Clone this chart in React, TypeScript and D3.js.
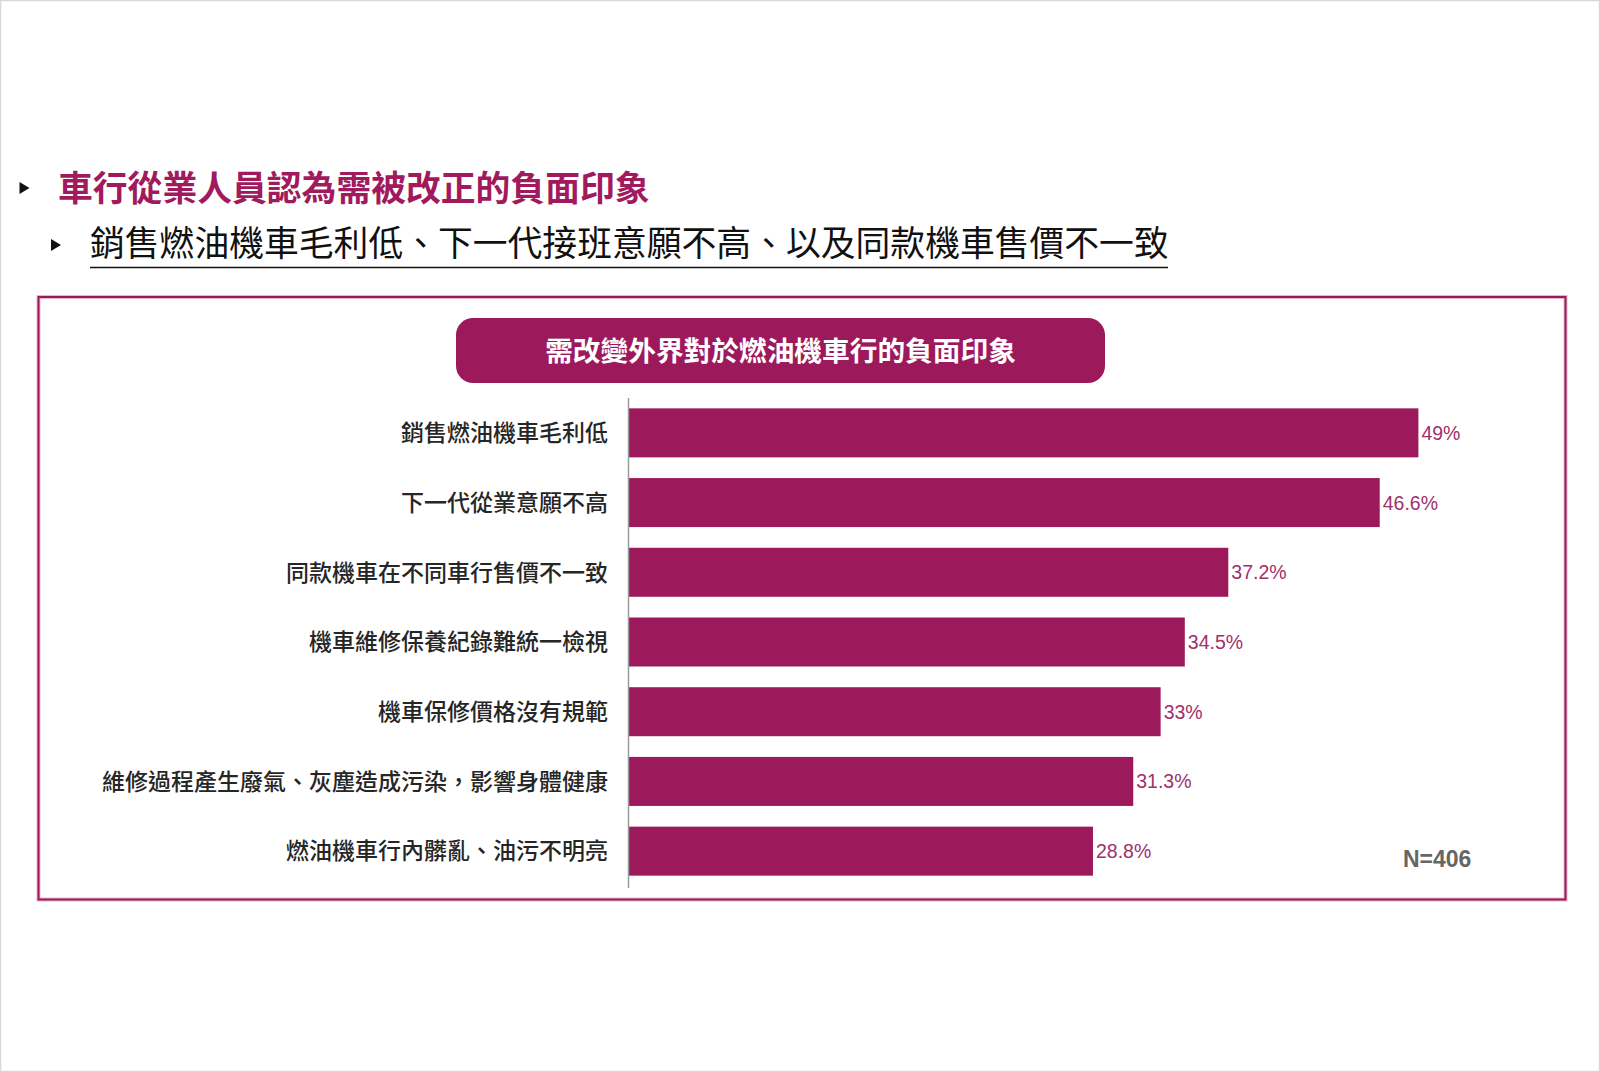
import React from "react";
import * as d3 from "d3";

const heading1 = "車行從業人員認為需被改正的負面印象";
const heading2 = "銷售燃油機車毛利低、下一代接班意願不高、以及同款機車售價不一致";
const chartTitle = "需改變外界對於燃油機車行的負面印象";
const sampleNote = "N=406";

const categories = [
  "銷售燃油機車毛利低",
  "下一代從業意願不高",
  "同款機車在不同車行售價不一致",
  "機車維修保養紀錄難統一檢視",
  "機車保修價格沒有規範",
  "維修過程產生廢氣、灰塵造成污染，影響身體健康",
  "燃油機車行內髒亂、油污不明亮",
];
const values = [49, 46.6, 37.2, 34.5, 33, 31.3, 28.8];
const valueLabels = ["49%", "46.6%", "37.2%", "34.5%", "33%", "31.3%", "28.8%"];

const W = 1600;
const H = 1072;
const MAGENTA = "#9c1a5c";
const CJK = "'Noto Sans CJK TC', 'Noto Sans CJK SC', sans-serif";
const LATIN = "'Liberation Sans', Arial, sans-serif";

export default function App() {
  const x = d3.scaleLinear().domain([0, 50]).range([629, 1434.5]);
  const y = d3
    .scaleBand<string>()
    .domain(categories)
    .range([398, 886])
    .paddingInner(0.297)
    .paddingOuter(0.1485);

  const tri = (cx: number, cy: number, w: number, h: number) =>
    `M${cx - w / 2},${cy - h / 2} L${cx + w / 2},${cy} L${cx - w / 2},${cy + h / 2} Z`;

  return (
    <svg
      width={W}
      height={H}
      viewBox={`0 0 ${W} ${H}`}
      style={{ position: "absolute", left: 0, top: 0, display: "block", background: "#fff" }}
    >
      <rect x={0.5} y={0.5} width={W - 1} height={H - 1} fill="#fff" stroke="#d8d8d8" strokeWidth={1.5} />

      {/* Headings */}
      <path d={tri(24.5, 188, 10, 12)} fill="#111" />
      <text
        x={58}
        y={188}
        dy="0.36em"
        fontFamily={CJK}
        fontWeight={700}
        fontSize={34.8}
        fill="#a11a5d"
      >
        {heading1}
      </text>

      <path d={tri(56, 245, 10, 12)} fill="#111" />
      <text x={90} y={243} dy="0.36em" fontFamily={CJK} fontSize={34.8} fill="#111">
        {heading2}
      </text>
      <line x1={90} x2={1168} y1={267.5} y2={267.5} stroke="#111" strokeWidth={1.6} />

      {/* Frame */}
      <rect x={38.5} y={297} width={1527} height={602.5} fill="none" stroke="#e8b3cd" strokeWidth={4} />
      <rect x={38.5} y={297} width={1527} height={602.5} fill="none" stroke={MAGENTA} strokeWidth={2} />

      {/* Chart title box */}
      <rect x={456} y={318} width={649} height={65} rx={17} ry={17} fill={MAGENTA} />
      <text
        x={780.5}
        y={351}
        dy="0.36em"
        textAnchor="middle"
        fontFamily={CJK}
        fontWeight={700}
        fontSize={27.7}
        fill="#fff"
      >
        {chartTitle}
      </text>

      {/* Bars */}
      {categories.map((c, i) => (
        <rect
          key={c}
          x={x(0)}
          y={y(c)}
          width={x(values[i]) - x(0)}
          height={y.bandwidth()}
          fill={MAGENTA}
        />
      ))}

      {/* Axis line */}
      <line x1={628.5} x2={628.5} y1={398} y2={888} stroke="#9a9a9a" strokeWidth={1.5} />

      {/* Category labels */}
      {categories.map((c) => (
        <text
          key={"l" + c}
          x={608}
          y={(y(c) as number) + y.bandwidth() / 2}
          dy="0.36em"
          textAnchor="end"
          fontFamily={CJK}
          fontWeight={500}
          fontSize={23}
          fill="#262626"
        >
          {c}
        </text>
      ))}

      {/* Value labels */}
      {categories.map((c, i) => (
        <text
          key={"v" + c}
          x={x(values[i]) + 3}
          y={(y(c) as number) + y.bandwidth() / 2}
          dy="0.36em"
          fontFamily={LATIN}
          fontSize={19.5}
          fill="#a0306a"
        >
          {valueLabels[i]}
        </text>
      ))}

      <text x={1403} y={867} fontFamily={LATIN} fontWeight={700} fontSize={23} fill="#666">
        {sampleNote}
      </text>
    </svg>
  );
}
